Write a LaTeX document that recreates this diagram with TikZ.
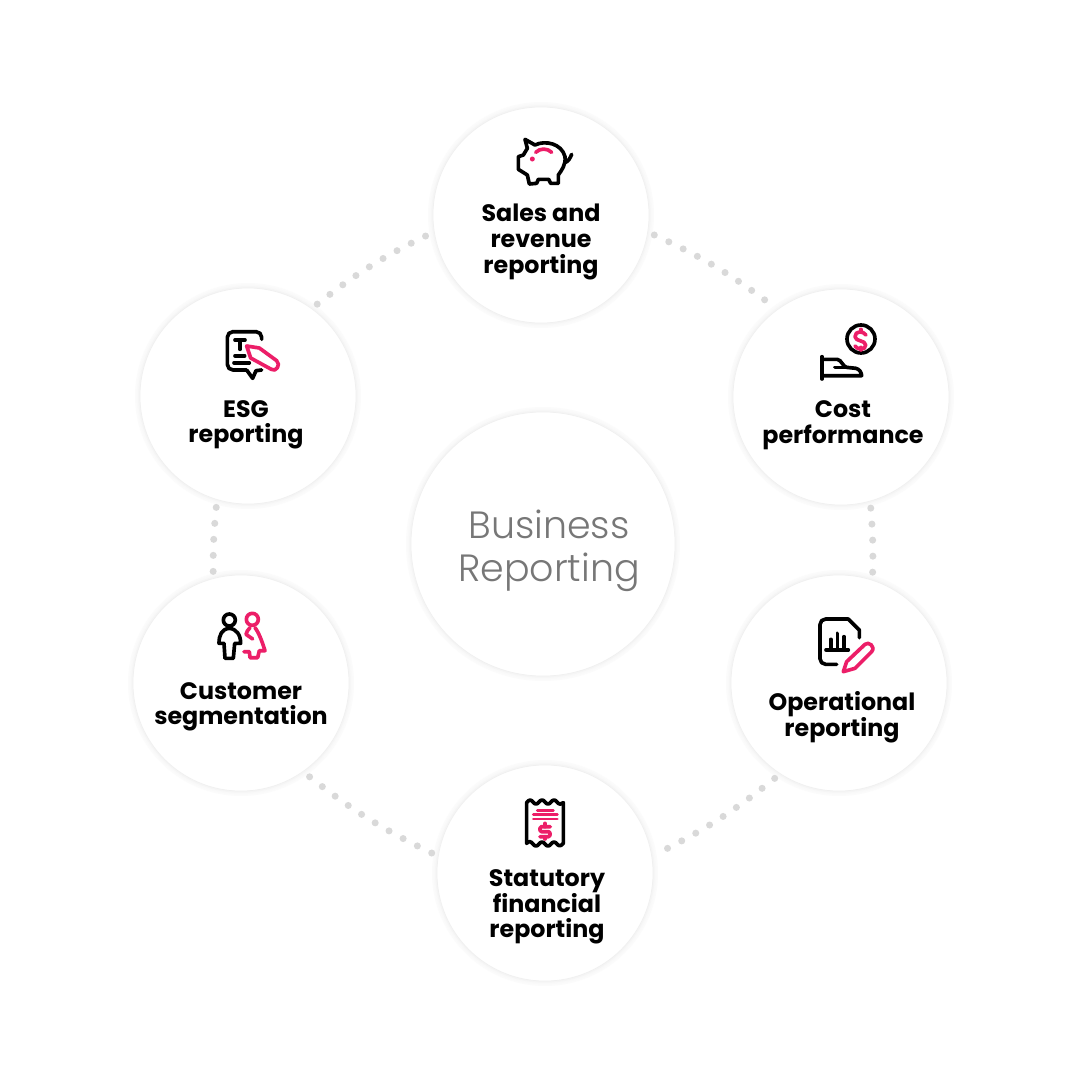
\documentclass[tikz,border=0pt]{standalone}
\usepackage{fontspec}
\setmainfont{Poppins}
\newfontfamily\lightfont{Poppins Light}
\usetikzlibrary{positioning}
\definecolor{brandpink}{HTML}{EC1E68}
\definecolor{dotgray}{HTML}{D9D9D9}
\definecolor{titlegray}{HTML}{777777}
\tikzstyle{bubble}    = [circle, minimum size=5.4cm, inner sep=0pt, outer sep=0.175cm, fill=white, draw=black!6, line width=0.5pt, preaction={draw=black!1.5, line width=7pt}, preaction={draw=black!2.5, line width=4.5pt}, preaction={draw=black!4, line width=2.4pt}]
\tikzstyle{bigbubble} = [bubble, minimum size=6.6cm]
\tikzstyle{boxtext}   = [align=center, inner sep=0pt, font=\fontsize{16.9}{18.2}\selectfont\bfseries]
\tikzstyle{dotline}   = [dotgray, line width=5pt, line cap=round, dash pattern=on 0pt off 11.4pt]
\tikzstyle{iconk}     = [black, line width=2.6pt, line join=round, line cap=round]
\tikzstyle{iconp}     = [brandpink, line width=2.6pt, line join=round, line cap=round]
\tikzstyle{zoomed}    = [x=0.008333cm, y=-0.008333cm]

\begin{document}
\begin{tikzpicture}[x=0.025cm, y=-0.025cm]
        \fill[white] (0,0) rectangle (1080,1080);
        \useasboundingbox (0,0) rectangle (1080,1080);

        % circles
        \node[bubble] (sales) at (541,215) {};
        \node[bubble] (cost) at (841,397) {};
        \node[bubble] (oper) at (839,683) {};
        \node[bubble] (stat) at (545,873) {};
        \node[bubble] (cust) at (241,683) {};
        \node[bubble] (esg) at (248,396) {};
        \node[bigbubble] (centre) at (543,544) {};

        % dotted links
        \draw[dotline] (sales.-10) to[bend left=6] (cost.127);
        \draw[dotline] (cost.-75) to[bend left=3] (oper.73);
        \draw[dotline] (oper.236) to[bend left=6] (stat.10);
        \draw[dotline] (stat.170) to[bend left=6] (cust.-54);
        \draw[dotline] (cust.104) to[bend left=3] (esg.-106);
        \draw[dotline] (esg.53) to[bend left=6] (sales.190);

        % texts
        \node[align=center, inner sep=0pt, titlegray, font=\fontsize{27}{30.6}\selectfont\lightfont] (title) at (549,551) {Business\\Reporting};
        \node[boxtext] (salestext) at (541,242) {Sales and\\revenue\\reporting};
        \node[boxtext] (costtext) at (843,425) {Cost\\performance};
        \node[boxtext] (opertext) at (842,717) {Operational\\reporting};
        \node[boxtext] (stattext) at (547,907) {Statutory\\financial\\reporting};
        \node[boxtext] (custtext) at (241,707) {Customer\\segmentation};
        \node[boxtext] (esgtext) at (246,425) {ESG\\reporting};

        % piggy
        \begin{scope}[shift={(490,120)}, zoomed]
            \draw[iconk] (105,58) -- (135,75) .. controls (165,60) and (215,70) .. (225,110) .. controls (228,135) and (215,150) .. (205,165) -- (205,190) -- (182,190) -- (176,178) -- (145,178) -- (140,190) -- (118,192) -- (112,165) -- (85,148) -- (85,110) -- (100,105) -- (112,85) -- cycle;
            \draw[iconk] (224,128) .. controls (235,125) and (240,115) .. (245,103);
            \draw[iconp] (137,97) .. controls (150,84) and (172,84) .. (185,97);
            \fill[brandpink] (127,117) circle (7.5);
        \end{scope}

        % hand and coin
        \begin{scope}[shift={(800,310)}, zoomed]
            \draw[iconk] (183,87) circle (42);
            \draw[iconp] (198,75) .. controls (190,62) and (165,62) .. (165,80) .. controls (165,95) and (197,90) .. (197,105) .. controls (197,122) and (172,120) .. (165,108);
            \draw[iconp] (182,58) -- (182,66);
            \draw[iconp] (182,112) -- (182,120);
            \draw[iconk] (66,140) -- (66,207);
            \draw[iconk] (66,148) -- (112,148) .. controls (125,150) and (128,170) .. (140,172) -- (168,175) .. controls (178,178) and (184,186) .. (185,197) -- (66,197);
            \draw[iconk] (105,172) -- (140,172);
        \end{scope}

        % document and pencil
        \begin{scope}[shift={(800,605)}, zoomed]
            \draw[iconk, rounded corners=4pt] (110,178) -- (60,178) -- (60,42) -- (145,42);
            \draw[iconk] (145,42) -- (178,75) -- (178,98);
            \draw[iconk] (78,135) -- (145,135);
            \draw[iconk] (92,135) -- (92,103);
            \draw[iconk] (112,135) -- (112,85);
            \draw[iconk] (132,135) -- (132,95);
            \draw[iconp] (130,200) -- (140,170) -- (195,118) .. controls (205,108) and (228,125) .. (215,140) -- (165,190) -- cycle;
        \end{scope}

        % receipt
        \begin{scope}[shift={(505,790)}, zoomed]
            \draw[iconk] (65,160) -- (65,38) .. controls (72,28) and (78,28) .. (84,36) .. controls (90,44) and (96,44) .. (102,36) .. controls (108,28) and (114,28) .. (120,36) .. controls (126,44) and (132,44) .. (138,36) .. controls (144,28) and (150,28) .. (156,36) .. controls (162,44) and (168,44) .. (175,38) -- (175,160);
            \draw[iconk] (65,160) .. controls (72,152) and (78,154) .. (84,162) .. controls (90,170) and (96,170) .. (102,162) .. controls (108,154) and (114,154) .. (120,162) .. controls (126,170) and (132,170) .. (138,162) .. controls (144,154) and (150,154) .. (156,162) .. controls (162,170) and (168,168) .. (175,160);
            \draw[iconp, line width=2pt] (97,61) -- (145,61);
            \draw[iconp, line width=2pt] (85,73) -- (157,73);
            \draw[iconp, line width=2pt] (85,87) -- (157,87);
            \draw[iconp, rounded corners=1pt] (136,110) -- (105,110) -- (105,125) -- (135,125) -- (135,140) -- (105,140);
            \draw[iconp] (120,100) -- (120,110);
            \draw[iconp] (120,140) -- (120,147);
        \end{scope}

        % people
        \begin{scope}[shift={(200,605)}, zoomed]
            \draw[iconk] (88,45) circle (18);
            \draw[iconk] (88,70) .. controls (65,72) and (57,90) .. (57,115) -- (72,115) -- (75,160) -- (100,160) -- (104,115) -- (122,115) .. controls (122,90) and (110,72) .. (88,70) -- cycle;
            \draw[iconp] (157,43) circle (18);
            \draw[iconp] (150,68) .. controls (145,75) and (138,80) .. (138,88) -- (158,102);
            \draw[iconp] (165,68) .. controls (178,85) and (188,115) .. (195,137) -- (178,137) -- (173,158) -- (150,158) -- (148,140) -- (132,140);
        \end{scope}

        % report and pen
        \begin{scope}[shift={(210,320)}, zoomed]
            \draw[iconk, rounded corners=4pt] (155,58) -- (155,35) -- (52,35) -- (52,150) -- (110,150);
            \draw[iconk] (110,150) -- (128,175) -- (138,152) -- (155,150);
            \draw[iconk] (75,60) -- (105,60);
            \draw[iconk] (90,60) -- (90,88);
            \draw[iconk] (75,107) -- (104,107);
            \draw[iconk] (72,128) -- (118,128);
            \draw[iconp, fill=white] (110,78) -- (148,84) -- (200,122) .. controls (214,134) and (197,158) .. (184,148) -- (122,114) -- cycle;
        \end{scope}
    \end{tikzpicture}
\end{document}
